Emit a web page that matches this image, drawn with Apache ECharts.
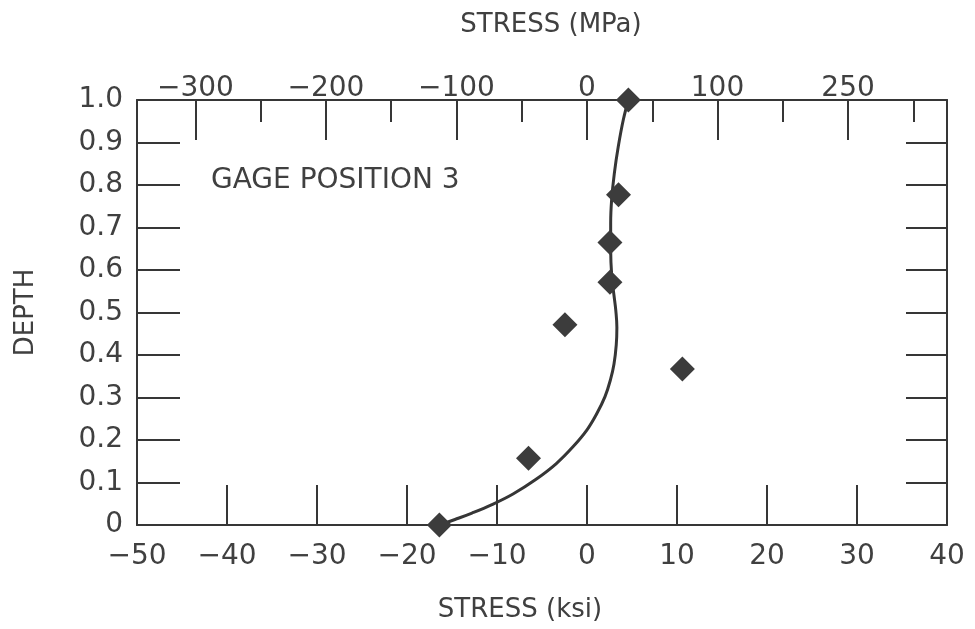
<!DOCTYPE html>
<html><head><meta charset="utf-8">
<script src="https://cdn.jsdelivr.net/npm/echarts@6/dist/echarts.min.js"></script>
<style>html,body{margin:0;padding:0;background:#fff}#c{width:975px;height:629px}</style>
</head><body><div id="c"></div>
<script>
// ---- data ----
const ksiTicks = [-50, -40, -30, -20, -10, 0, 10, 20, 30, 40];
const depthTicks = [0, 0.1, 0.2, 0.3, 0.4, 0.5, 0.6, 0.7, 0.8, 0.9, 1.0];
const mpaMajorTicks = [-300, -200, -100, 0, 100, 200];
const mpaMajorLabels = ['−300', '−200', '−100', '0', '100', '250'];
const mpaMinorTicks = [-250, -150, -50, 50, 150, 250];
const pointStress = [4.6, 3.5, 2.55, 2.55, -2.45, 10.6, -6.5, -16.4];
const pointDepth = [1.0, 0.777, 0.665, 0.571, 0.471, 0.367, 0.157, 0.0];
const curveStress = [-16.4, -14.67, -12.78, -10.56, -8.22, -5.7, -3.44, -1.56, 0.0, 1.11, 2.0, 2.61, 3.0, 3.25, 3.32, 3.2, 3.0, 2.75, 2.63, 2.63, 2.74, 3.04, 3.48, 4.04, 4.6];
const curveDepth  = [0.0, 0.013, 0.028, 0.048, 0.073, 0.107, 0.144, 0.184, 0.224, 0.263, 0.302, 0.342, 0.379, 0.424, 0.465, 0.505, 0.540, 0.585, 0.648, 0.711, 0.766, 0.828, 0.891, 0.954, 1.0];
const KSI_TO_MPA = 6.895;
const ksiLabels = ksiTicks.map(v => String(v).replace('-', '−'));
const depthLabels = depthTicks.map(v => v === 0 ? '0' : v.toFixed(1));

const INK = '#363636';
const TXT = '#404040';
const FONT = 'DejaVu Sans';
const TICK_FS = 28;
const TITLE_FS = 26;

const chart = echarts.init(document.getElementById('c'), null, { renderer: 'canvas' });
const xMinK = ksiTicks[0], xMaxK = ksiTicks[ksiTicks.length - 1];
const lineSt = { color: INK, width: 2 };

chart.setOption({
  backgroundColor: '#ffffff',
  animation: false,
  grid: { left: 137, right: 28, top: 100, bottom: 104, containLabel: false },
  xAxis: [
    {
      type: 'value', position: 'bottom', min: xMinK, max: xMaxK, interval: 10,
      name: 'STRESS (ksi)', nameLocation: 'middle', nameGap: 72,
      nameTextStyle: { fontFamily: FONT, fontSize: TITLE_FS, color: TXT, padding: [0, 44, 0, 0] },
      axisLine: { show: true, onZero: false, lineStyle: lineSt },
      axisTick: { show: true, inside: true, length: 40, lineStyle: lineSt },
      axisLabel: { show: true, margin: 18, fontFamily: FONT, fontSize: TICK_FS, color: TXT, showMinLabel: true, showMaxLabel: true,
        formatter: v => ksiLabels[ksiTicks.indexOf(Math.round(v))] },
      splitLine: { show: false }
    },
    {
      type: 'value', position: 'top', min: xMinK * KSI_TO_MPA, max: xMaxK * KSI_TO_MPA,
      name: 'STRESS (MPa)', nameLocation: 'middle', nameGap: 62,
      nameTextStyle: { fontFamily: FONT, fontSize: TITLE_FS, color: TXT, padding: [0, 0, 0, 18] },
      axisLine: { show: true, onZero: false, lineStyle: lineSt },
      axisTick: { show: true, inside: true, length: 40, customValues: mpaMajorTicks, lineStyle: lineSt },
      axisLabel: { show: true, margin: -3, fontFamily: FONT, fontSize: TICK_FS, color: TXT, customValues: mpaMajorTicks,
        formatter: v => mpaMajorLabels[mpaMajorTicks.indexOf(Math.round(v))] },
      splitLine: { show: false }
    },
    {
      type: 'value', position: 'top', min: xMinK * KSI_TO_MPA, max: xMaxK * KSI_TO_MPA,
      axisLine: { show: false, onZero: false },
      axisTick: { show: true, inside: true, length: 22, customValues: mpaMinorTicks, lineStyle: lineSt },
      axisLabel: { show: false },
      splitLine: { show: false }
    }
  ],
  yAxis: [
    {
      type: 'value', position: 'left', min: 0, max: 1, interval: 0.1,
      name: 'DEPTH', nameLocation: 'middle', nameGap: 98, nameRotate: 90,
      nameTextStyle: { fontFamily: FONT, fontSize: TITLE_FS, color: TXT },
      axisLine: { show: true, onZero: false, lineStyle: lineSt },
      axisTick: { show: true, inside: true, length: 43, lineStyle: lineSt },
      axisLabel: { show: true, margin: 14, fontFamily: FONT, fontSize: TICK_FS, color: TXT, showMinLabel: true, showMaxLabel: true,
        formatter: v => depthLabels[depthTicks.findIndex(t => Math.abs(t - v) < 1e-6)] },
      splitLine: { show: false }
    },
    {
      type: 'value', position: 'right', min: 0, max: 1, interval: 0.1,
      axisLine: { show: true, onZero: false, lineStyle: lineSt },
      axisTick: { show: true, inside: true, length: 41, lineStyle: lineSt },
      axisLabel: { show: false },
      splitLine: { show: false }
    }
  ],
  graphic: [
    { type: 'text', left: 211, top: 167, style: { text: 'GAGE POSITION 3', fontFamily: FONT, fontSize: 28, fill: TXT } }
  ],
  series: [
    {
      type: 'line', xAxisIndex: 0, yAxisIndex: 0, smooth: 0.4, symbol: 'none',
      lineStyle: { color: INK, width: 3 },
      data: curveStress.map((s, i) => [s, curveDepth[i]]), z: 2
    },
    {
      type: 'scatter', xAxisIndex: 0, yAxisIndex: 0, symbol: 'diamond', symbolSize: 25,
      itemStyle: { color: '#3c3c3c', opacity: 1 },
      data: pointStress.map((s, i) => [s, pointDepth[i]]), z: 3
    }
  ]
});
</script>
</body></html>
